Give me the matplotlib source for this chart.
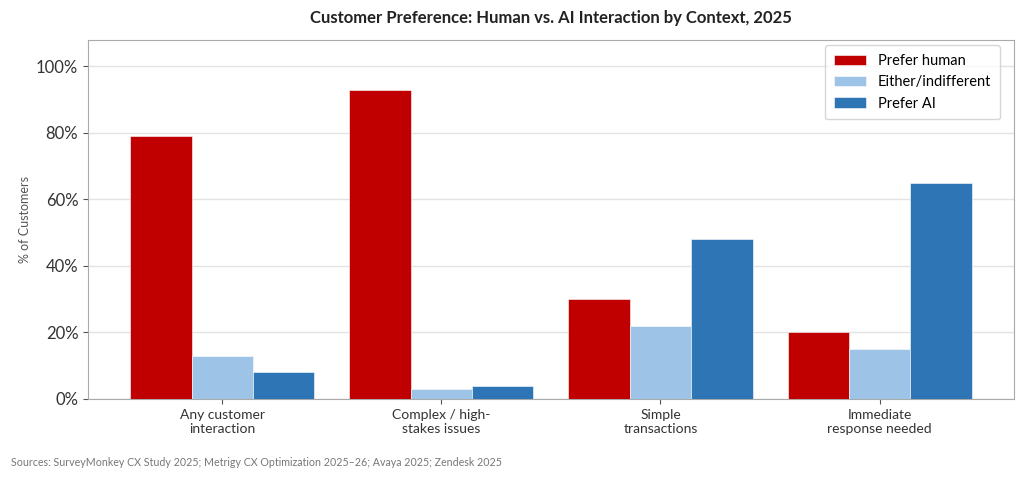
import matplotlib.pyplot as plt
import numpy as np
from matplotlib.ticker import PercentFormatter

plt.rcParams['font.family'] = ['Lato', 'DejaVu Sans']

# --- Data ---
categories = ["Any customer\ninteraction", "Complex / high-\nstakes issues",
              "Simple\ntransactions", "Immediate\nresponse needed"]
prefer_human = [79, 93, 30, 20]
either = [13, 3, 22, 15]
prefer_ai = [8, 4, 48, 65]
series_names = ["Prefer human", "Either/indifferent", "Prefer AI"]
colors = ["#C00000", "#9DC3E6", "#2E75B6"]

fig = plt.figure(figsize=(10.24, 4.8), dpi=100)
ax = fig.add_axes([0.086, 0.169, 0.904, 0.748])

x = np.arange(len(categories))
w = 0.28
for i, (vals, name, c) in enumerate(zip([prefer_human, either, prefer_ai], series_names, colors)):
    ax.bar(x + (i - 1) * w, vals, w, color=c, label=name,
           edgecolor="white", linewidth=0.4, zorder=3)

ax.set_ylim(0, 108)
ax.set_yticks([0, 20, 40, 60, 80, 100])
ax.yaxis.set_major_formatter(PercentFormatter(decimals=0))
ax.set_xticks(x)
ax.set_xticklabels(categories, fontsize=10, color="#333333")
ax.tick_params(axis="y", labelsize=12, colors="#333333")
ax.tick_params(axis="both", color="#555555")
ax.set_ylabel("% of Customers", fontsize=9, color="#555555")
ax.grid(axis="y", color="#e3e3e3", linewidth=1, zorder=0)
for s in ax.spines.values():
    s.set_color("#aaaaaa")

ax.set_title("Customer Preference: Human vs. AI Interaction by Context, 2025",
             fontsize=12, fontweight="bold", color="#222222", pad=12)
ax.legend(loc="upper right", fontsize=10.5, frameon=True, fancybox=True,
          edgecolor="#cccccc", borderpad=0.6, handlelength=2.2,
          bbox_to_anchor=(0.993, 1.005))

fig.text(0.011, 0.03, "Sources: SurveyMonkey CX Study 2025; Metrigy CX Optimization 2025\u201326; Avaya 2025; Zendesk 2025",
         fontsize=7.7, color="#777777")

plt.savefig("out.png", dpi=100)
